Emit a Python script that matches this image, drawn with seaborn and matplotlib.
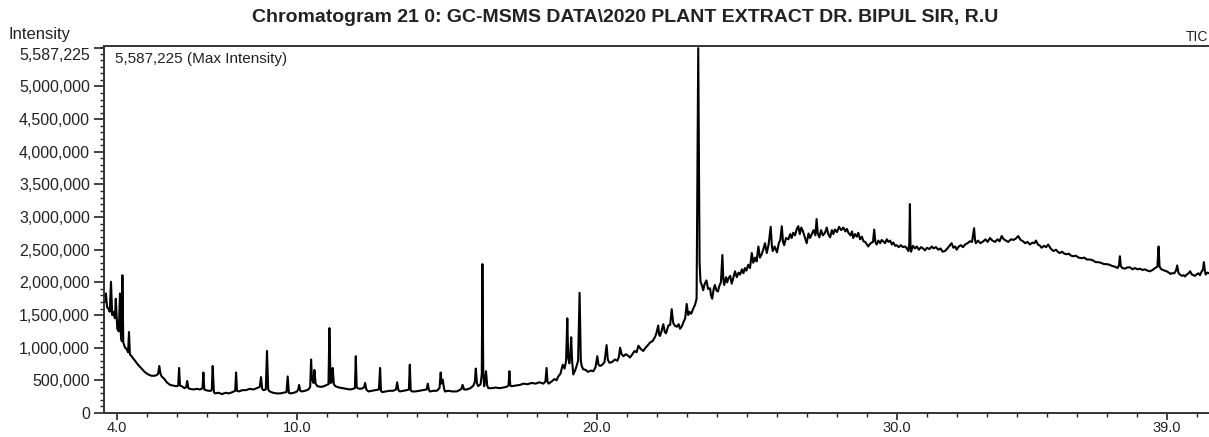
import numpy as np
import pandas as pd
import seaborn as sns
from matplotlib import pyplot as plt
from matplotlib.ticker import FixedLocator, MultipleLocator, FuncFormatter

# retention time (min) and TIC intensity (x1000 counts)
rt_early = [3.57, 3.61, 3.63, 3.67, 3.71, 3.76, 3.80, 3.84, 3.88, 3.93, 3.96, 4.01, 4.06, 4.10,
            4.13, 4.16, 4.18, 4.21, 4.27, 4.32, 4.37, 4.40, 4.43, 4.50, 4.60, 4.70, 4.82, 4.92,
            5.04, 5.15, 5.25, 5.32, 5.37, 5.41, 5.45, 5.49, 5.58, 5.66, 5.77, 5.88, 5.98, 6.04,
            6.07, 6.10, 6.16, 6.25, 6.31, 6.34, 6.38, 6.43, 6.55, 6.66, 6.77, 6.85, 6.88, 6.91,
            6.96, 7.05, 7.13, 7.16, 7.19, 7.23, 7.27, 7.38, 7.50, 7.62, 7.73, 7.85, 7.94, 7.97,
            8.00, 8.06, 8.18, 8.30, 8.42, 8.55, 8.66, 8.76, 8.80, 8.84, 8.88, 8.96, 9.00, 9.04,
            9.09, 9.20, 9.32, 9.44, 9.55, 9.65, 9.69, 9.73, 9.78, 9.90, 10.00, 10.04, 10.07,
            10.11, 10.16, 10.27, 10.38, 10.44, 10.47, 10.50, 10.52, 10.55, 10.58, 10.62, 10.68,
            10.80, 10.90, 10.99, 11.05, 11.08, 11.12, 11.16, 11.19, 11.23, 11.28, 11.40, 11.52,
            11.65, 11.77, 11.86, 11.93, 11.96, 11.99, 12.02]
int_early = [1730, 1700, 1830, 1620, 1600, 1550, 2010, 1500, 1550, 1450, 1750, 1290, 1250, 1830,
             1180, 1100, 2110, 1080, 1000, 980, 930, 1240, 900, 860, 800, 740, 680, 630,
             590, 570, 570, 580, 600, 720, 600, 560, 520, 470, 430, 420, 410, 420,
             690, 420, 410, 380, 400, 490, 380, 370, 360, 370, 360, 380, 620, 360,
             350, 340, 340, 360, 720, 320, 300, 310, 290, 310, 300, 320, 340, 620,
             340, 330, 350, 350, 370, 360, 380, 400, 550, 370, 350, 360, 950, 360,
             330, 310, 300, 300, 310, 320, 560, 310, 300, 310, 330, 360, 430,
             340, 330, 340, 360, 400, 820, 500, 560, 460, 660, 450, 410,
             400, 410, 430, 440, 1300, 460, 470, 690, 440, 410, 390, 380,
             370, 360, 370, 380, 870, 400, 380]

rt_mid = [12.10, 12.20, 12.24, 12.27, 12.31, 12.38, 12.50, 12.62, 12.73, 12.77, 12.80, 12.84,
          12.96, 13.08, 13.20, 13.30, 13.34, 13.38, 13.43, 13.55, 13.66, 13.73, 13.76, 13.79,
          13.83, 13.95, 14.08, 14.20, 14.32, 14.36, 14.40, 14.43, 14.55, 14.66, 14.75, 14.79,
          14.82, 14.86, 14.90, 14.93, 15.05, 15.18, 15.32, 15.42, 15.48, 15.52, 15.57, 15.66,
          15.78, 15.88, 15.93, 15.96, 16.00, 16.04, 16.12, 16.16, 16.18, 16.21, 16.24, 16.27,
          16.30, 16.34, 16.38, 16.50, 16.62, 16.75, 16.88, 16.98, 17.05, 17.08, 17.11, 17.16,
          17.28, 17.43, 17.55, 17.68, 17.82, 17.95, 18.08, 18.21, 18.28, 18.32, 18.35, 18.39,
          18.48, 18.58, 18.65, 18.71, 18.78, 18.86, 18.92, 18.97, 19.01, 19.04, 19.08, 19.11,
          19.14, 19.17, 19.21, 19.27, 19.32, 19.37, 19.42, 19.46, 19.49, 19.54, 19.62, 19.70,
          19.80, 19.88, 19.95, 20.01, 20.05, 20.10, 20.18, 20.25, 20.32, 20.36, 20.41, 20.50,
          20.60, 20.68, 20.73, 20.77, 20.82, 20.88, 20.96, 21.03, 21.10, 21.18, 21.25, 21.32,
          21.38, 21.46, 21.54, 21.62, 21.70, 21.77, 21.85, 21.93, 21.98, 22.04, 22.07, 22.10,
          22.15, 22.21, 22.26, 22.30, 22.34, 22.38, 22.44, 22.49, 22.54, 22.59, 22.66, 22.72,
          22.77, 22.83, 22.88, 22.94, 22.99, 23.04, 23.08, 23.14, 23.21, 23.27, 23.32]
int_mid = [370, 380, 400, 460, 360, 330, 340, 350, 360, 690, 340, 320,
           330, 340, 340, 360, 470, 350, 330, 340, 350, 360, 740, 350,
           330, 330, 340, 350, 360, 450, 350, 330, 340, 340, 380, 620,
           450, 510, 380, 330, 340, 330, 330, 350, 370, 430, 360, 360,
           380, 420, 480, 680, 450, 410, 440, 600, 2280, 600, 410, 500,
           640, 420, 380, 380, 390, 380, 390, 400, 420, 640, 420, 410,
           420, 430, 450, 440, 460, 450, 470, 450, 480, 690, 480, 450,
           480, 520, 500, 560, 600, 740, 680, 800, 1450, 850, 760, 900,
           1160, 800, 590, 650, 720, 800, 1840, 800, 720, 670, 660, 630,
           650, 640, 700, 870, 740, 720, 740, 780, 1040, 820, 770, 780,
           820, 800, 860, 1000, 900, 870, 900, 880, 850, 900, 950, 930,
           1030, 980, 950, 1000, 1040, 1080, 1100, 1160, 1220, 1340, 1200, 1180,
           1250, 1360, 1240, 1220, 1280, 1340, 1350, 1590, 1380, 1340, 1320, 1360,
           1290, 1330, 1390, 1450, 1670, 1500, 1550, 1520, 1600, 1660, 1750]

rt_late = [23.36, 23.375, 23.39, 23.42, 23.45, 23.50, 23.54, 23.59, 23.65, 23.70, 23.77, 23.80,
           23.84, 23.89, 23.93, 23.98, 24.03, 24.08, 24.13, 24.18, 24.21, 24.24, 24.30, 24.34,
           24.38, 24.44, 24.49, 24.55, 24.60, 24.66, 24.72, 24.77, 24.83, 24.88, 24.93, 24.98,
           25.04, 25.10, 25.16, 25.21, 25.27, 25.32, 25.38, 25.43, 25.49, 25.54, 25.60, 25.66,
           25.72, 25.79, 25.83, 25.86, 25.92, 26.00, 26.06, 26.11, 26.16, 26.20, 26.24, 26.30,
           26.38, 26.44, 26.49, 26.54, 26.60, 26.66, 26.71, 26.76, 26.81, 26.86, 26.92, 26.99,
           27.05, 27.10, 27.16, 27.22, 27.28, 27.32, 27.36, 27.41, 27.47, 27.53, 27.60, 27.66,
           27.71, 27.77, 27.83, 27.88, 27.93, 28.00, 28.07, 28.14, 28.21, 28.28, 28.33, 28.38,
           28.45, 28.50, 28.54, 28.60, 28.66, 28.71, 28.77, 28.83, 28.88, 28.94, 29.00, 29.04,
           29.12, 29.20, 29.24, 29.28, 29.32, 29.38, 29.44, 29.49, 29.54, 29.60, 29.66, 29.71,
           29.77, 29.83, 29.88, 29.94, 29.99, 30.06, 30.13, 30.20, 30.27, 30.33, 30.38, 30.41,
           30.43, 30.45, 30.47, 30.53, 30.60, 30.66, 30.73, 30.80, 30.87, 30.93, 31.00, 31.08,
           31.16, 31.22, 31.30, 31.38, 31.45, 31.52, 31.60, 31.68, 31.75, 31.82, 31.88, 31.94,
           31.99, 32.06, 32.13, 32.20, 32.27, 32.35, 32.43, 32.50, 32.57, 32.60, 32.63, 32.70,
           32.78, 32.88, 32.95, 33.02, 33.10, 33.18, 33.27, 33.35, 33.42, 33.49, 33.56, 33.63,
           33.71, 33.80, 33.88, 33.96, 34.04, 34.12, 34.20, 34.27, 34.35, 34.43, 34.52, 34.58,
           34.63, 34.70, 34.77, 34.82, 34.90, 34.97, 35.04, 35.12, 35.21, 35.30, 35.38, 35.43,
           35.50, 35.58, 35.66, 35.73, 35.80, 35.88, 35.96, 36.05, 36.16, 36.24, 36.33, 36.43,
           36.52, 36.62, 36.71, 36.80, 36.90, 36.99, 37.08, 37.18, 37.27, 37.35, 37.40, 37.43,
           37.46, 37.51, 37.60, 37.68, 37.77, 37.85, 37.93, 38.02, 38.10, 38.18, 38.26, 38.35,
           38.43, 38.52, 38.60, 38.68, 38.72, 38.75, 38.79, 38.86, 38.92, 38.99, 39.06, 39.12,
           39.16, 39.24, 39.30, 39.34, 39.38, 39.43, 39.50, 39.56, 39.60, 39.66, 39.72, 39.77,
           39.83, 39.88, 39.93, 39.98, 40.05, 40.10, 40.16, 40.20, 40.23, 40.26, 40.29, 40.34,
           40.40]
int_late = [4450, 5587.225, 4450, 2300, 2010, 1950, 1880, 1980, 2030, 1900, 1910, 1800,
            1750, 1900, 1960, 1880, 1860, 1950, 2000, 2420, 2050, 1960, 2080, 2000,
            2060, 2100, 1980, 2080, 2170, 2080, 2150, 2120, 2200, 2140, 2220, 2180,
            2270, 2220, 2450, 2300, 2380, 2320, 2550, 2380, 2430, 2500, 2600, 2450,
            2580, 2850, 2550, 2480, 2550, 2460, 2600, 2650, 2860, 2620, 2570, 2680,
            2660, 2740, 2680, 2760, 2720, 2820, 2860, 2740, 2840, 2790, 2700, 2600,
            2750, 2680, 2740, 2800, 2720, 2970, 2750, 2690, 2800, 2720, 2760, 2840,
            2740, 2690, 2800, 2740, 2810, 2770, 2850, 2800, 2840, 2780, 2820, 2760,
            2720, 2780, 2680, 2740, 2700, 2760, 2660, 2700, 2630, 2620, 2580, 2550,
            2600, 2620, 2810, 2620, 2580, 2640, 2600, 2650, 2630, 2600, 2660, 2620,
            2640, 2580, 2610, 2560, 2570, 2540, 2570, 2540, 2550, 2520, 2480, 2600,
            3200, 2550, 2470, 2560, 2520, 2550, 2500, 2540, 2520, 2490, 2530, 2510,
            2550, 2520, 2540, 2500, 2520, 2470, 2480, 2520, 2560, 2600, 2530, 2550,
            2500, 2550, 2570, 2540, 2580, 2600, 2630, 2620, 2830, 2650, 2600, 2640,
            2600, 2630, 2660, 2620, 2680, 2640, 2620, 2660, 2630, 2710, 2660, 2640,
            2620, 2660, 2650, 2670, 2710, 2650, 2630, 2600, 2620, 2580, 2610, 2600,
            2640, 2580, 2560, 2530, 2560, 2540, 2580, 2520, 2480, 2500, 2460, 2450,
            2470, 2440, 2430, 2440, 2410, 2400, 2410, 2380, 2370, 2380, 2350, 2350,
            2340, 2310, 2310, 2300, 2280, 2280, 2270, 2250, 2240, 2220, 2260, 2400,
            2250, 2220, 2210, 2230, 2230, 2200, 2220, 2200, 2210, 2190, 2200, 2180,
            2170, 2190, 2220, 2240, 2550, 2250, 2210, 2190, 2180, 2170, 2150, 2130,
            2140, 2140, 2180, 2260, 2150, 2120, 2100, 2110, 2090, 2120, 2140, 2170,
            2120, 2110, 2100, 2120, 2140, 2110, 2170, 2200, 2310, 2180, 2120, 2150,
            2140]

max_intensity = 5587225
x_major = [4.0, 10.0, 20.0, 30.0, 39.0]
y_major = [0, 500000, 1000000, 1500000, 2000000, 2500000, 3000000, 3500000, 4000000,
           4500000, 5000000, max_intensity]

rt = rt_early + rt_mid + rt_late
inten = int_early + int_mid + int_late
assert len(rt) == len(inten)
df = pd.DataFrame({'rt': rt, 'intensity': np.array(inten) * 1000})

sns.set_style('ticks')
plt.rcParams['font.family'] = ['Liberation Sans', 'DejaVu Sans']

fig = plt.figure(figsize=(12.09, 4.37), dpi=100)
ax = fig.add_axes([104 / 1209, 24 / 437, 1111 / 1209, 367 / 437])

sns.lineplot(data=df, x='rt', y='intensity', estimator=None, sort=False,
             color='black', lw=1.5, ax=ax)

ax.set_xlim(3.567, 40.6)
ax.set_ylim(0, 5620000)
ax.xaxis.set_major_locator(FixedLocator(x_major))
ax.xaxis.set_minor_locator(MultipleLocator(1.0))
ax.xaxis.set_major_formatter(FuncFormatter(lambda v, p: f'{v:.1f}'))
ax.yaxis.set_major_locator(FixedLocator(y_major))
ax.yaxis.set_minor_locator(MultipleLocator(100000))
ax.yaxis.set_major_formatter(FuncFormatter(lambda v, p: f'{int(v):,}'))
ax.tick_params(which='major', width=1.2, colors='#222222')
ax.tick_params(axis='y', which='major', labelsize=11.5, length=7, pad=3)
ax.tick_params(axis='x', which='major', labelsize=10.5, length=5, pad=0.5)
ax.tick_params(which='minor', length=3, width=1.0, color='#222222')
ax.set_xlabel('')
ax.set_ylabel('')
for s in ['left', 'bottom', 'top']:
    ax.spines[s].set_color('#333333')
    ax.spines[s].set_linewidth(1.4)
ax.spines['right'].set_visible(False)

# the max-intensity label sits just under the frame, as in the instrument printout
fig.canvas.draw()
ax.yaxis.get_major_ticks()[-1].label1.set_verticalalignment('top')

ax.text(0.01, 0.965, '5,587,225 (Max Intensity)', transform=ax.transAxes,
        fontsize=11, va='center', ha='left', color='#222222')
fig.text(8 / 1209, 1 - 35 / 437, 'Intensity', fontsize=12, va='center', ha='left', color='#222222')
fig.text(1186 / 1209, 1 - 37 / 437, 'TIC', fontsize=10, va='center', ha='left', color='#222222')
fig.text(0.517, 1 - 17 / 437, 'Chromatogram 21 0: GC-MSMS DATA\\2020 PLANT EXTRACT DR. BIPUL SIR, R.U',
         fontsize=14, fontweight='bold', ha='center', va='center', color='#222222')

fig.savefig('out.png', dpi=100)
